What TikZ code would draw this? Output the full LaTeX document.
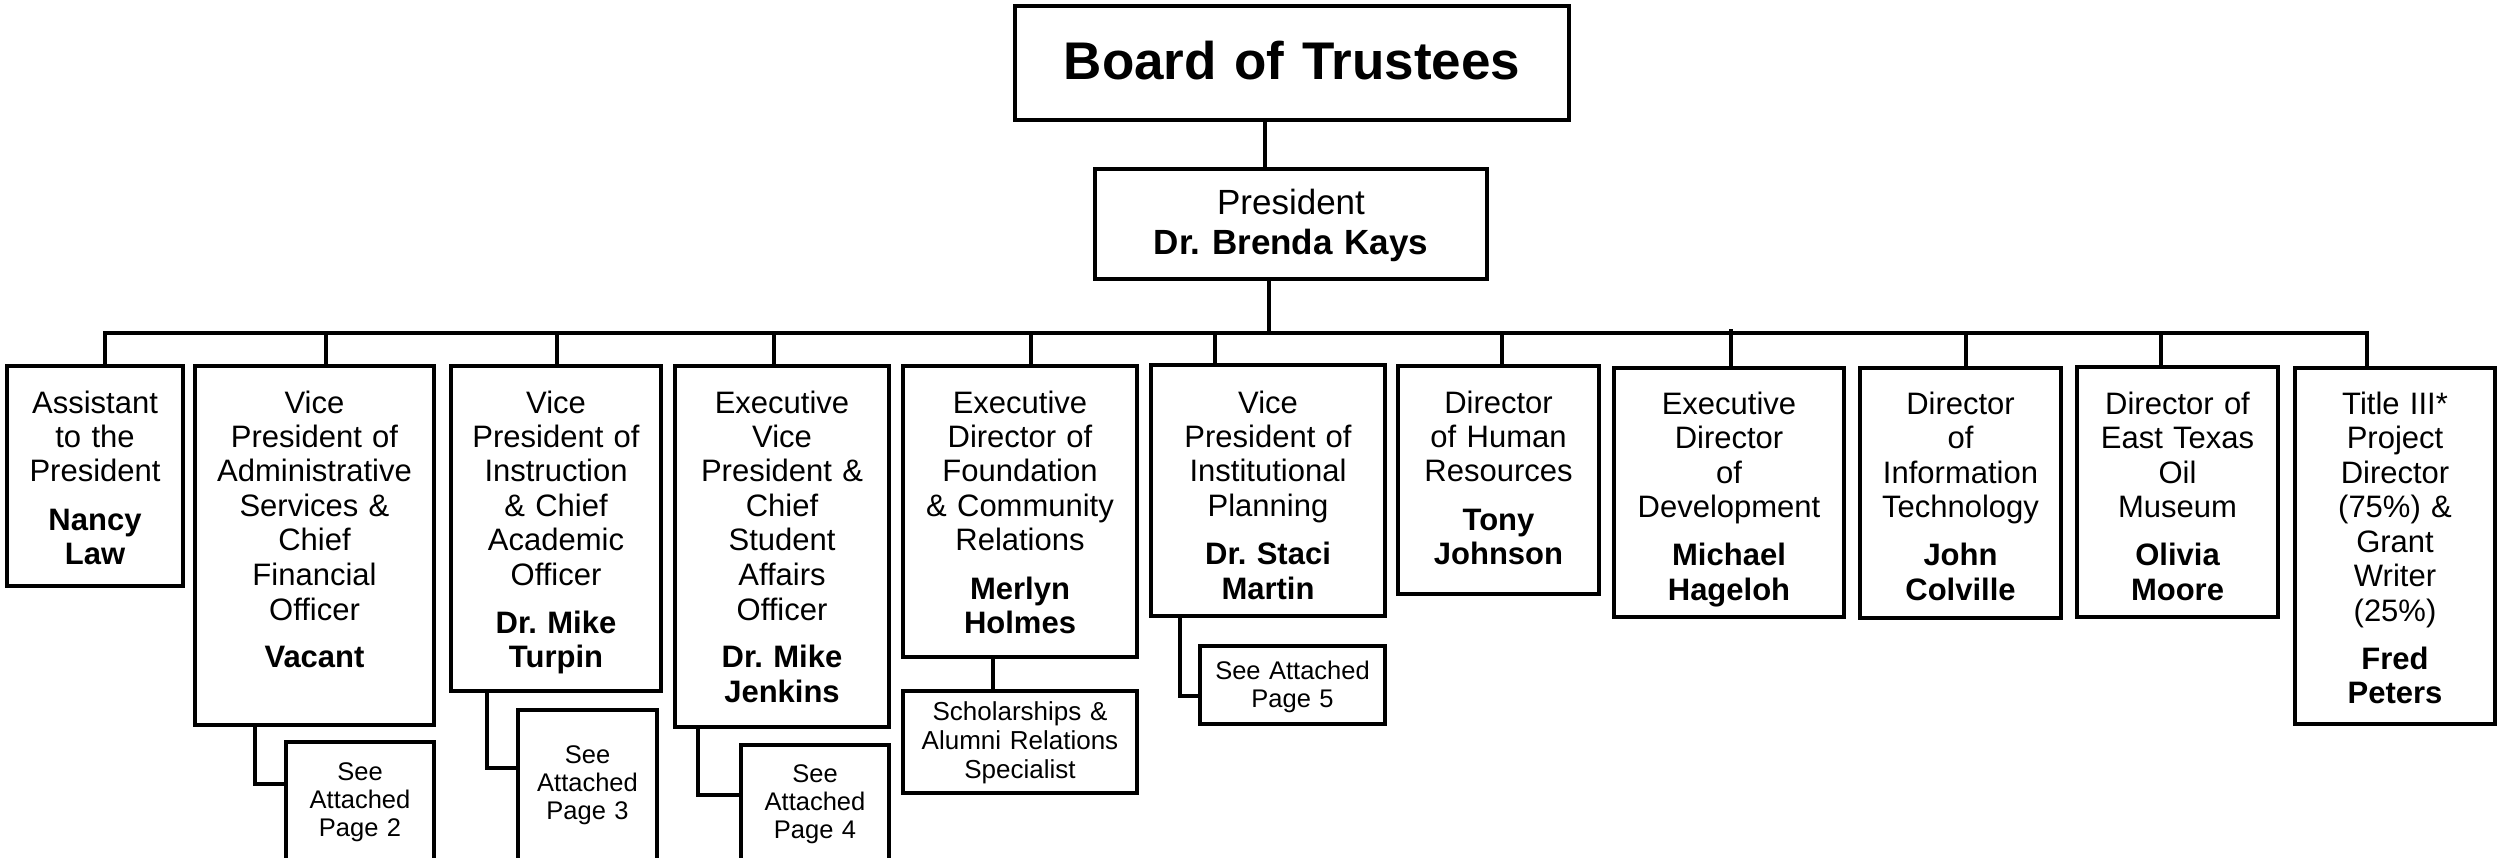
\documentclass[tikz,border=0pt]{standalone}
\usepackage{fontspec}
\setmainfont{Liberation Sans}
\frenchspacing
\tikzset{
  box/.style={draw, line width=3.2pt, inner sep=0pt, outer sep=0pt},
  txt/.style={inner sep=0pt, outer sep=0pt, align=center},
  conn/.style={line width=3.2pt},
  bodyfont/.style={font=\fontsize{31}{34.5}\selectfont},
  smallfont/.style={font=\fontsize{25.5}{28.3}\selectfont},
  scholfont/.style={font=\fontsize{26}{29}\selectfont},
  presfont/.style={font=\fontsize{35}{40}\selectfont},
  boardfont/.style={font=\fontsize{53}{60}\selectfont},
}
% name, x, y, width, height, first-baseline offset, font style, text
\newcommand\obox[8]{%
  \node[box,minimum width=#4pt,minimum height=#5pt,anchor=north west] (#1) at (#2,#3) {};
  \node[txt,#7,text width=#4pt,anchor=north] (#1t) at ([yshift={(40-#6)*1pt}]#1.north) {\rule{0pt}{40pt}#8};}
\begin{document}
\begin{tikzpicture}[x=1pt,y=-1pt]
\path[use as bounding box] (0,0) rectangle (2497,858);
\clip (0,0) rectangle (2497,858);

\obox{board}{1015}{6}{554}{114}{74}{boardfont}{\bfseries Board of Trustees}
\obox{pres}{1095}{169}{392}{110}{46}{presfont}{President\\\bfseries Dr. Brenda Kays}

\obox{asst}{7}{366}{176}{220}{47}{bodyfont}{Assistant\\to the\\President\\[13.5pt]\bfseries Nancy\\Law}
\obox{vpadm}{195}{366}{239}{359}{47}{bodyfont}{Vice\\President of\\Administrative\\Services \&\\Chief\\Financial\\Officer\\[13.5pt]\bfseries Vacant}
\obox{vpins}{451}{366}{210}{325}{47}{bodyfont}{Vice\\President of\\Instruction\\\& Chief\\Academic\\Officer\\[13.5pt]\bfseries Dr. Mike\\Turpin}
\obox{evp}{675}{366}{214}{361}{47}{bodyfont}{Executive\\Vice\\President \&\\Chief\\Student\\Affairs\\Officer\\[13.5pt]\bfseries Dr. Mike\\Jenkins}
\obox{edf}{903}{366}{234}{291}{47}{bodyfont}{Executive\\Director of\\Foundation\\\& Community\\Relations\\[13.5pt]\bfseries Merlyn\\Holmes}
\obox{vpip}{1151}{365}{234}{251}{48}{bodyfont}{Vice\\President of\\Institutional\\Planning\\[13.5pt]\bfseries Dr. Staci\\Martin}
\obox{hr}{1398}{366}{201}{228}{47}{bodyfont}{Director\\of Human\\Resources\\[13.5pt]\bfseries Tony\\Johnson}
\obox{dev}{1614}{368}{230}{249}{46}{bodyfont}{Executive\\Director\\of\\Development\\[13.5pt]\bfseries Michael\\Hageloh}
\obox{it}{1860}{368}{201}{250}{46}{bodyfont}{Director\\of\\Information\\Technology\\[13.5pt]\bfseries John\\Colville}
\obox{etom}{2077}{367}{201}{250}{47}{bodyfont}{Director of\\East Texas\\Oil\\Museum\\[13.5pt]\bfseries Olivia\\Moore}
\obox{tiii}{2295}{368}{200}{356}{46}{bodyfont}{Title III*\\Project\\Director\\(75\%) \&\\Grant\\Writer\\(25\%)\\[13.5pt]\bfseries Fred\\Peters}

\obox{ptwo}{286}{742}{148}{200}{38}{smallfont}{See\\Attached\\Page 2}
\obox{pthree}{518}{710}{139}{200}{53}{smallfont}{See\\Attached\\Page 3}
\obox{pfour}{741}{745}{148}{200}{37}{smallfont}{See\\Attached\\Page 4}
\obox{pfive}{1200}{646}{185}{78}{33}{smallfont}{See Attached\\Page 5}
\obox{schol}{903}{691}{234}{102}{29}{scholfont}{Scholarships \&\\Alumni Relations\\Specialist}

% connectors
\coordinate (busL) at (105,333);
\coordinate (busR) at (2367,333);
\draw[conn] ([xshift=-27pt]board.south) -- ([xshift=-27pt]board.south |- pres.north);
\draw[conn] ([xshift=-22pt]pres.south) -- ([xshift=-22pt]pres.south |- busL);
\draw[conn] ([xshift=10pt]asst.north) -- (busL) -- (busR) -- ([xshift=-28pt]tiii.north);
\draw[conn] ([xshift=11.5pt]vpadm.north) -- ([xshift=11.5pt]vpadm.north |- busL);
\draw[conn] ([xshift=1pt]vpins.north) -- ([xshift=1pt]vpins.north |- busL);
\draw[conn] ([xshift=-8pt]evp.north) -- ([xshift=-8pt]evp.north |- busL);
\draw[conn] ([xshift=11pt]edf.north) -- ([xshift=11pt]edf.north |- busL);
\draw[conn] ([xshift=-53pt]vpip.north) -- ([xshift=-53pt]vpip.north |- busL);
\draw[conn] ([xshift=3.5pt]hr.north) -- ([xshift=3.5pt]hr.north |- busL);
\coordinate (devtop) at ([xshift=2pt]dev.north |- busL);
\draw[conn] ([xshift=2pt]dev.north) -- ([yshift=4pt]devtop);
\draw[conn] ([xshift=5.5pt]it.north) -- ([xshift=5.5pt]it.north |- busL);
\draw[conn] ([xshift=-16.5pt]etom.north) -- ([xshift=-16.5pt]etom.north |- busL);

\draw[conn] ([xshift=-59.5pt]vpadm.south) |- ([yshift=-42pt]ptwo.north west);
\draw[conn] ([xshift=-69pt]vpins.south) |- ([yshift=-58pt]pthree.north west);
\draw[conn] ([xshift=-84pt]evp.south) |- ([yshift=-50pt]pfour.north west);
\draw[conn] ([xshift=-27pt]edf.south) -- ([xshift=-27pt]edf.south |- schol.north);
\draw[conn] ([xshift=-88pt]vpip.south) |- ([yshift=-50pt]pfive.north west);
\end{tikzpicture}
\end{document}
